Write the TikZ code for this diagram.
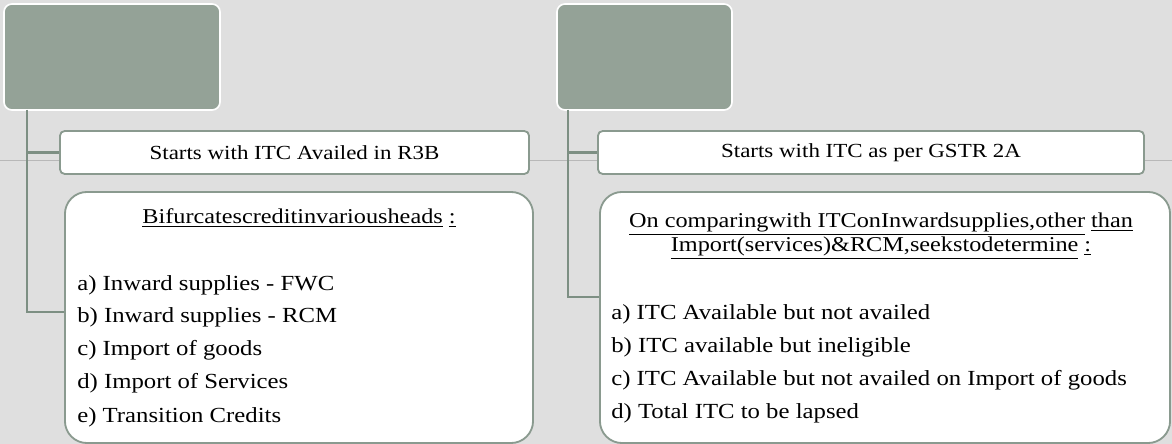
\documentclass[tikz,border=0pt]{standalone}
\usepackage{fontspec}
\setmainfont{Liberation Serif}[FakeStretch=1.15]
\definecolor{slidebg}{HTML}{DFDFDF}
\definecolor{headfill}{HTML}{94A297}
\definecolor{linkcol}{HTML}{7D8F83}
\definecolor{edgecol}{HTML}{8A9A8F}
\tikzstyle{headbox} = [rectangle, rounded corners = 0.2cm, draw = white, line width = 1.2pt, fill = headfill, inner sep = 0]
\tikzstyle{startbox} = [rectangle, rounded corners = 0.12cm, draw = edgecol, line width = 1.3pt, fill = white, minimum height = 1.075cm, inner sep = 0]
\tikzstyle{listbox} = [rectangle, rounded corners = 0.55cm, draw = edgecol, line width = 1.3pt, fill = white, minimum height = 6.275cm, inner sep = 0]
\tikzstyle{link} = [draw = linkcol, line width = 1.6pt]
\tikzstyle{item} = [anchor = west, inner sep = 0, font = \fontsize{15.3}{18}\selectfont]
\tikzstyle{caption} = [inner sep = 0, font = \fontsize{14.2}{17}\selectfont, align = center]
\tikzstyle{heading} = [inner sep = 0, font = \fontsize{15}{18}\selectfont, align = center]

\begin{document}
\begin{tikzpicture}[x = 0.025cm, y = -0.025cm]
  \fill[slidebg] (0, 0) rectangle (1172, 444);
  \useasboundingbox (0, 0) rectangle (1172, 444);
  \draw[color = black!28, line width = 0.6pt] (0, 160) -- (1172, 160);
  \node[headbox, minimum width = 5.4cm, minimum height = 2.65cm] (dark1) at (112, 57) {};
  \node[headbox, minimum width = 4.375cm, minimum height = 2.65cm] (dark2) at (644.5, 57) {};
  \coordinate (top1) at (27, 110);
  \coordinate (top2) at (568, 110);
  \node[startbox, minimum width = 11.725cm] (start1) at (294.5, 152.5) {};
  \node[caption] at (start1) {Starts with ITC Availed in R3B};
  \node[startbox, minimum width = 13.65cm] (start2) at (871, 152.5) {};
  \node[caption] at (start2) {Starts with ITC as per GSTR 2A};
  \draw[link] (top1) |- (start1.west);
  \draw[link] (top1) |- (65, 312) coordinate (end1);
  \draw[link] (top2) |- (start2.west);
  \draw[link] (top2) |- (600, 297) coordinate (end2);
  \node[listbox, minimum width = 11.7cm] (heads1) at (299, 317.5) {};
  \node[listbox, minimum width = 14.25cm] (heads2) at (885, 317.5) {};
  \node[heading] (title1) at (299, 218) {\underline{Bifurcatescreditinvariousheads} \underline{:}};
  \node[heading] (title2) at (881, 236) {\underline{On comparingwith ITConInwardsupplies,other} \underline{than}\\[-1pt]
    \underline{Import(services)\&RCM,seekstodetermine} \underline{:}};
  \foreach \i/\y/\t in {a/285/{a) Inward supplies - FWC}, b/317/{b) Inward supplies - RCM},
      c/350/{c) Import of goods}, d/383/{d) Import of Services}, e/417/{e) Transition Credits}} {
    \node[item] (l\i) at (77, \y) {\t};
  }
  \foreach \i/\y/\t in {a/314/{a) ITC Available but not availed}, b/347/{b) ITC available but ineligible},
      c/380/{c) ITC Available but not availed on Import of goods}, d/413/{d) Total ITC to be lapsed}} {
    \node[item] (r\i) at (611, \y) {\t};
  }
\end{tikzpicture}
\end{document}
